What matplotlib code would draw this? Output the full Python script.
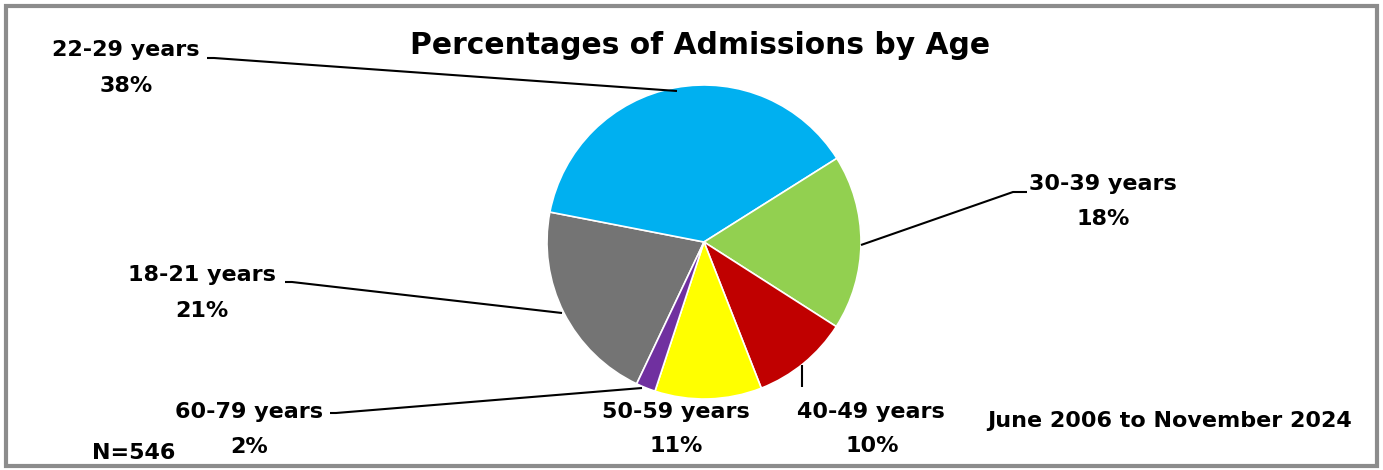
import matplotlib
matplotlib.use("Agg")
import matplotlib.pyplot as plt
from matplotlib.patches import Rectangle

# ---- data ----
categories = ["18-21 years", "22-29 years", "30-39 years", "40-49 years", "50-59 years", "60-79 years"]
percentages = [21, 38, 18, 10, 11, 2]
colors = ["#747474", "#00B0F0", "#92D050", "#C00000", "#FFFF00", "#7030A0"]
title = "Percentages of Admissions by Age"
note_n = "N=546"
note_period = "June 2006 to November 2024"

W, H = 1383, 470
FONT = ["DejaVu Sans"]

fig = plt.figure(figsize=(W / 100, H / 100), dpi=100)
ax = fig.add_axes([0, 0, 1, 1])

def Y(y):
    return H - y

cx, cy, r = 704, 242, 157
ax.pie(percentages, colors=colors, startangle=244.6, counterclock=False,
       center=(cx, Y(cy)), radius=r, frame=True,
       wedgeprops=dict(edgecolor="white", linewidth=1.2))

ax.set_xlim(0, W)
ax.set_ylim(0, H)
ax.set_aspect("auto")
ax.axis("off")

# border
ax.add_patch(Rectangle((6, Y(466)), 1371, 460, fill=False, edgecolor="#8C8C8C", linewidth=3))

# title
ax.text(700, Y(46), title, ha="center", va="center", fontsize=21.4, fontweight="bold",
        family=FONT, color="black")

# label positions (pixel coords): name center, pct center
label_pos = {
    "18-21 years": ((202, 275), (202, 311)),
    "22-29 years": ((126, 50), (126, 86)),
    "30-39 years": ((1103, 184), (1103, 219)),
    "40-49 years": ((871, 412), (872, 446)),
    "50-59 years": ((676, 412), (676, 446)),
    "60-79 years": ((249, 412), (249, 447)),
}
for cat, pct in zip(categories, percentages):
    (nx, ny), (px, py) = label_pos[cat]
    ax.text(nx, Y(ny), cat, ha="center", va="center", fontsize=16, fontweight="bold",
            family=FONT, color="black")
    ax.text(px, Y(py), f"{pct}%", ha="center", va="center", fontsize=16, fontweight="bold",
            family=FONT, color="black")

# leader lines
leaders = [
    [(207, 58), (214, 58), (677, 91)],
    [(861, 245), (1013, 192), (1027, 192)],
    [(285, 282), (292, 282), (562, 313)],
    [(330, 413), (336, 413), (642, 388)],
    [(802, 365), (802, 387)],
]
for pts in leaders:
    xs = [p[0] for p in pts]
    ys = [Y(p[1]) for p in pts]
    ax.plot(xs, ys, color="black", linewidth=1.5, solid_capstyle="butt")

ax.text(134, Y(453), note_n, ha="center", va="center", fontsize=16, fontweight="bold",
        family=FONT, color="black")
ax.text(1170, Y(421), note_period, ha="center", va="center", fontsize=16, fontweight="bold",
        family=FONT, color="black")

fig.savefig("out.png", dpi=100)
